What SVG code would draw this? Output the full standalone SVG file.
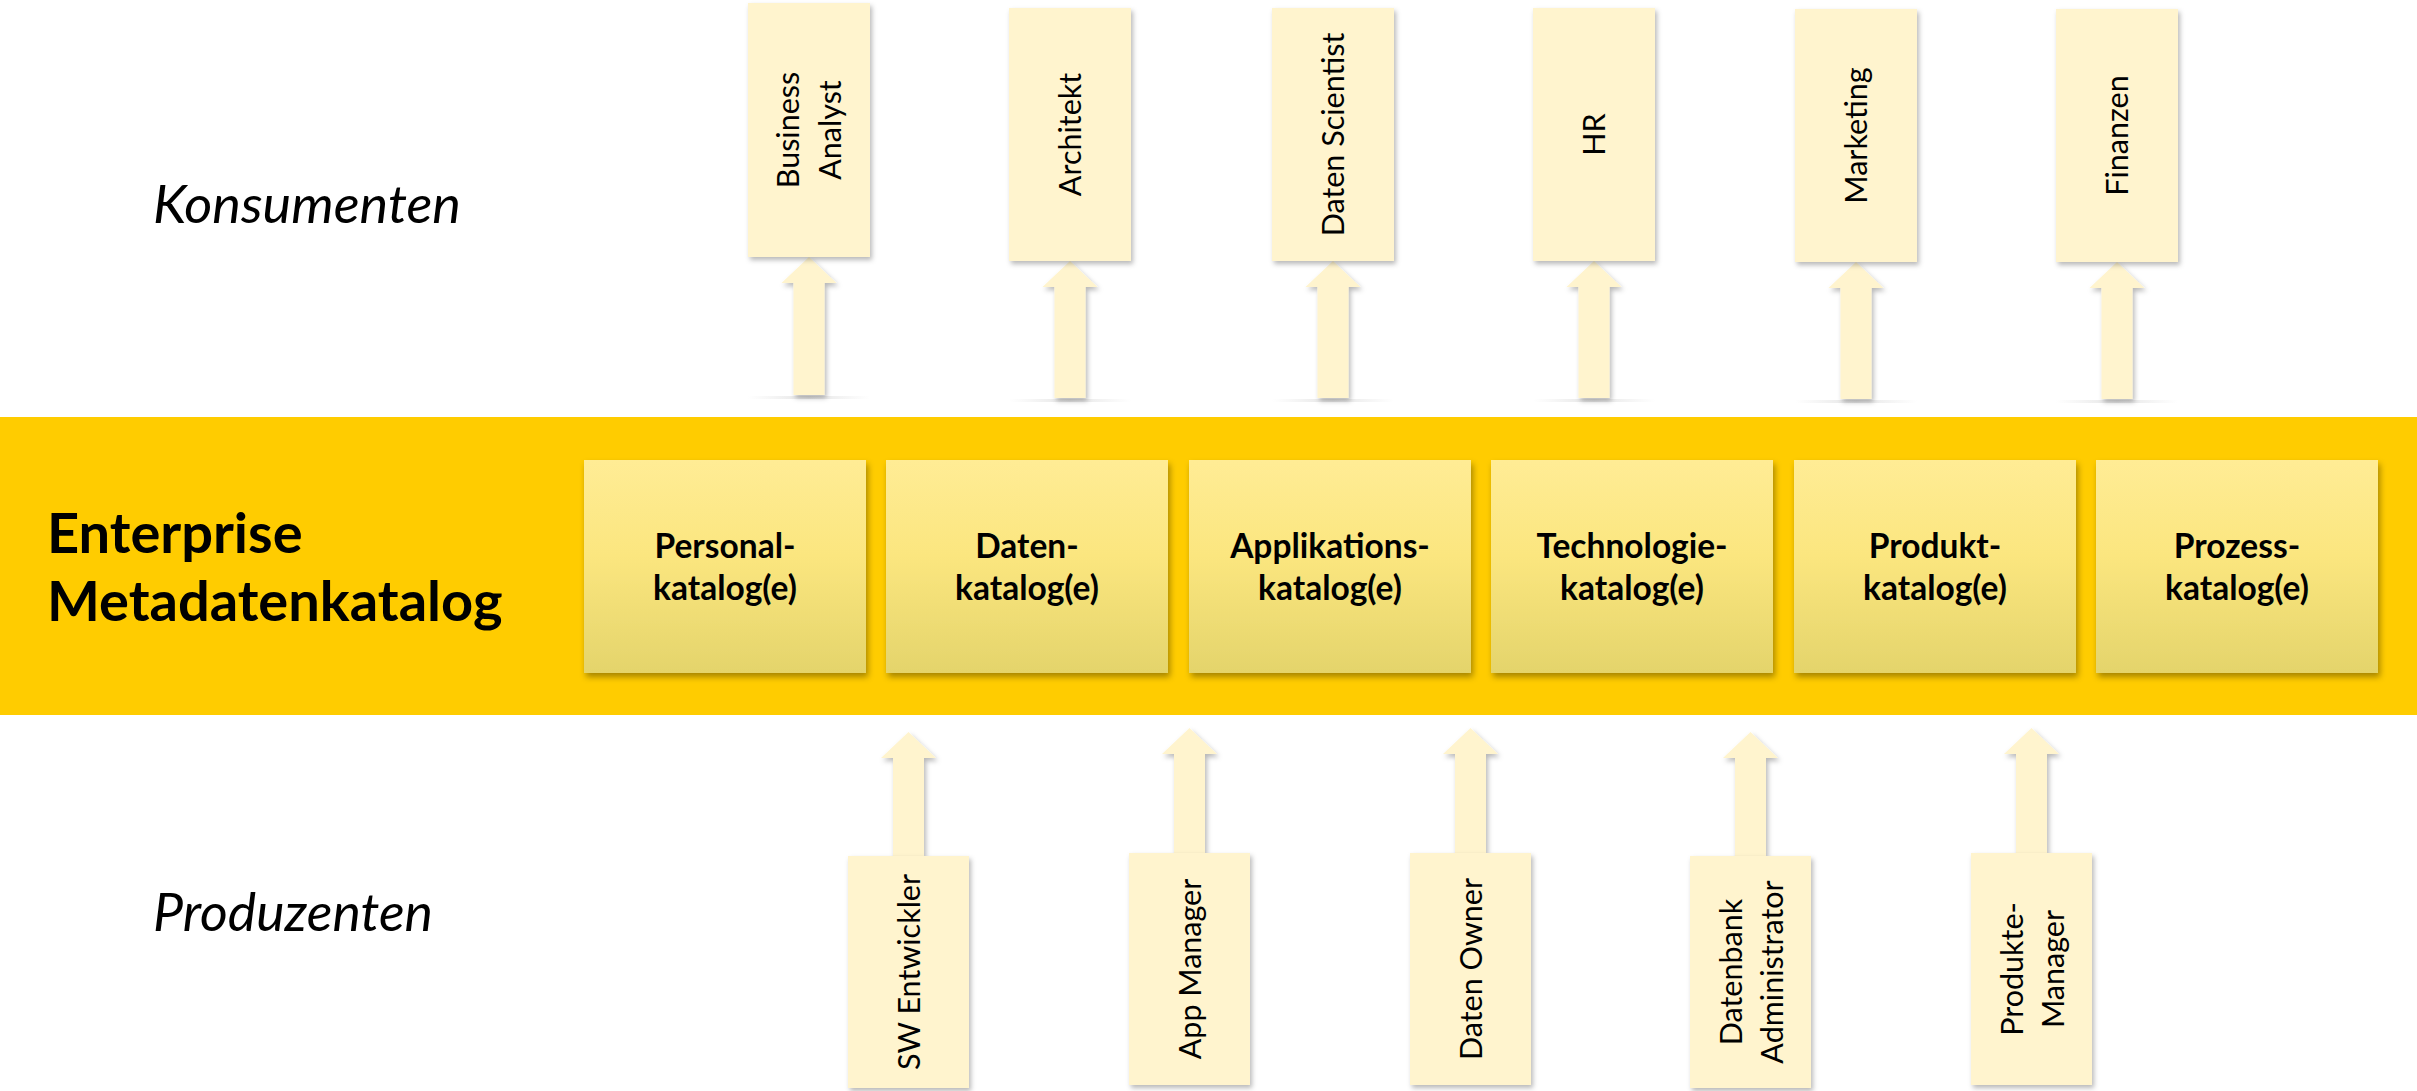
<svg xmlns="http://www.w3.org/2000/svg" width="2417" height="1091" viewBox="0 0 2417 1091">
  <defs>
    <linearGradient id="catGrad" x1="0" y1="0" x2="0" y2="1">
      <stop offset="0" stop-color="#FFEC95"/>
      <stop offset="0.45" stop-color="#FBE67F"/>
      <stop offset="1" stop-color="#E4D46B"/>
    </linearGradient>
    <linearGradient id="groundGrad" x1="0" y1="0" x2="1" y2="0">
      <stop offset="0" stop-color="#e8e8e8" stop-opacity="0"/>
      <stop offset="0.5" stop-color="#e4e4e4" stop-opacity="1"/>
      <stop offset="1" stop-color="#e8e8e8" stop-opacity="0"/>
    </linearGradient>
    <filter id="catShadow" x="-10%" y="-10%" width="125%" height="130%">
      <feDropShadow dx="2" dy="4" stdDeviation="3" flood-color="#000" flood-opacity="0.35"/>
    </filter>
    <filter id="boxShadow" x="-15%" y="-10%" width="140%" height="125%">
      <feDropShadow dx="2" dy="3" stdDeviation="2.5" flood-color="#000" flood-opacity="0.28"/>
    </filter>
  </defs>
  <style>
    .band { fill: #FFCC00; }
    .cat { fill: url(#catGrad); filter: url(#catShadow); }
    .person { fill: #FFF4CE; filter: url(#boxShadow); }
    .arrow { fill: #FFF4CE; filter: url(#boxShadow); }
    .ground { fill: url(#groundGrad); }
    .bold { font-family: Lato, "Open Sans", sans-serif; font-weight: 700; fill: #000; }
    .catText { font-size: 33.5px; text-anchor: middle; }
    .title { font-size: 56px; }
    .lane { font-family: Lato, "Open Sans", sans-serif; font-style: italic; font-size: 52px; fill: #000; }
    .role { font-family: Lato, "Open Sans", sans-serif; font-size: 30.5px; text-anchor: middle; fill: #000; }
  </style>

  <rect width="2417" height="1091" fill="#FFFFFF"/>

  <!-- Layer band -->
  <g id="band">
    <rect class="band" x="0" y="417" width="2417" height="298"/>
    <text class="bold title" x="47" y="553">Enterprise</text>
    <text class="bold title" x="47" y="621">Metadatenkatalog</text>
  </g>

  <!-- Lane labels -->
  <g id="label-konsumenten">
    <text class="lane" x="153" y="223" textLength="308" lengthAdjust="spacingAndGlyphs">Konsumenten</text>
  </g>
  <g id="label-produzenten">
    <text class="lane" x="153" y="931" textLength="280" lengthAdjust="spacingAndGlyphs">Produzenten</text>
  </g>

  <!-- Connectors -->
  <g id="connectors">
    <!-- ground lines under top arrows -->
    <rect class="ground" x="748" y="396" width="122" height="3"/>
    <rect class="ground" x="1009" y="399" width="122" height="3"/>
    <rect class="ground" x="1272" y="399" width="122" height="3"/>
    <rect class="ground" x="1533" y="399" width="122" height="3"/>
    <rect class="ground" x="1795" y="400" width="122" height="3"/>
    <rect class="ground" x="2056" y="400" width="122" height="3"/>
    <!-- top arrows (catalog -> consumers) -->
    <polygon class="arrow" points="809,257 836.5,283 824.5,283 824.5,395 793.5,395 793.5,283 781.5,283"/>
    <polygon class="arrow" points="1070,261 1097.5,287 1085.5,287 1085.5,398 1054.5,398 1054.5,287 1042.5,287"/>
    <polygon class="arrow" points="1333,261 1360.5,287 1348.5,287 1348.5,398 1317.5,398 1317.5,287 1305.5,287"/>
    <polygon class="arrow" points="1594,261 1621.5,287 1609.5,287 1609.5,398 1578.5,398 1578.5,287 1566.5,287"/>
    <polygon class="arrow" points="1856,262 1883.5,288 1871.5,288 1871.5,399 1840.5,399 1840.5,288 1828.5,288"/>
    <polygon class="arrow" points="2117,262 2144.5,288 2132.5,288 2132.5,399 2101.5,399 2101.5,288 2089.5,288"/>
    <!-- bottom arrows (producers -> catalog) -->
    <polygon class="arrow" points="908.5,732 936,758 924,758 924,856 893,856 893,758 881,758"/>
    <polygon class="arrow" points="1189.5,728 1217,754 1205,754 1205,853 1174,853 1174,754 1162,754"/>
    <polygon class="arrow" points="1470.5,728 1498,754 1486,754 1486,853 1455,853 1455,754 1443,754"/>
    <polygon class="arrow" points="1750.5,732 1778,758 1766,758 1766,856 1735,856 1735,758 1723,758"/>
    <polygon class="arrow" points="2031.5,728 2059,754 2047,754 2047,853 2016,853 2016,754 2004,754"/>
  </g>

  <!-- Catalog nodes -->
  <g id="cat-personal">
    <rect class="cat" x="584" y="460" width="282" height="213"/>
    <text class="bold catText" x="725" y="558">Personal-</text>
    <text class="bold catText" x="725" y="600">katalog(e)</text>
  </g>
  <g id="cat-daten">
    <rect class="cat" x="886" y="460" width="282" height="213"/>
    <text class="bold catText" x="1027" y="558">Daten-</text>
    <text class="bold catText" x="1027" y="600">katalog(e)</text>
  </g>
  <g id="cat-applikation">
    <rect class="cat" x="1189" y="460" width="282" height="213"/>
    <text class="bold catText" x="1330" y="558">Applikations-</text>
    <text class="bold catText" x="1330" y="600">katalog(e)</text>
  </g>
  <g id="cat-technologie">
    <rect class="cat" x="1491" y="460" width="282" height="213"/>
    <text class="bold catText" x="1632" y="558">Technologie-</text>
    <text class="bold catText" x="1632" y="600">katalog(e)</text>
  </g>
  <g id="cat-produkt">
    <rect class="cat" x="1794" y="460" width="282" height="213"/>
    <text class="bold catText" x="1935" y="558">Produkt-</text>
    <text class="bold catText" x="1935" y="600">katalog(e)</text>
  </g>
  <g id="cat-prozess">
    <rect class="cat" x="2096" y="460" width="282" height="213"/>
    <text class="bold catText" x="2237" y="558">Prozess-</text>
    <text class="bold catText" x="2237" y="600">katalog(e)</text>
  </g>

  <!-- Consumer nodes -->
  <g id="con-business-analyst">
    <rect class="person" x="748" y="3" width="122" height="254"/>
    <g transform="translate(809,130) rotate(-90)">
      <text class="role" x="0" y="-10">Business</text>
      <text class="role" x="0" y="32">Analyst</text>
    </g>
  </g>
  <g id="con-architekt">
    <rect class="person" x="1009" y="8" width="122" height="253"/>
    <text class="role" transform="translate(1070,134.5) rotate(-90)" x="0" y="11">Architekt</text>
  </g>
  <g id="con-daten-scientist">
    <rect class="person" x="1272" y="8" width="122" height="253"/>
    <text class="role" transform="translate(1333,134.5) rotate(-90)" x="0" y="11">Daten Scientist</text>
  </g>
  <g id="con-hr">
    <rect class="person" x="1533" y="8" width="122" height="253"/>
    <text class="role" transform="translate(1594,134.5) rotate(-90)" x="0" y="11">HR</text>
  </g>
  <g id="con-marketing">
    <rect class="person" x="1795" y="9" width="122" height="253"/>
    <text class="role" transform="translate(1856,135.5) rotate(-90)" x="0" y="11">Marketing</text>
  </g>
  <g id="con-finanzen">
    <rect class="person" x="2056" y="9" width="122" height="253"/>
    <text class="role" transform="translate(2117,135.5) rotate(-90)" x="0" y="11">Finanzen</text>
  </g>

  <!-- Producer nodes -->
  <g id="pro-sw-entwickler">
    <rect class="person" x="848" y="856" width="121" height="232"/>
    <text class="role" transform="translate(908.5,972) rotate(-90)" x="0" y="11">SW Entwickler</text>
  </g>
  <g id="pro-app-manager">
    <rect class="person" x="1129" y="853" width="121" height="232"/>
    <text class="role" transform="translate(1189.5,969) rotate(-90)" x="0" y="11">App Manager</text>
  </g>
  <g id="pro-daten-owner">
    <rect class="person" x="1410" y="853" width="121" height="232"/>
    <text class="role" transform="translate(1470.5,969) rotate(-90)" x="0" y="11">Daten Owner</text>
  </g>
  <g id="pro-datenbank-administrator">
    <rect class="person" x="1690" y="856" width="121" height="232"/>
    <g transform="translate(1750.5,972) rotate(-90)">
      <text class="role" x="0" y="-9">Datenbank</text>
      <text class="role" x="0" y="32">Administrator</text>
    </g>
  </g>
  <g id="pro-produkte-manager">
    <rect class="person" x="1971" y="853" width="121" height="232"/>
    <g transform="translate(2031.5,969) rotate(-90)">
      <text class="role" x="0" y="-9">Produkte-</text>
      <text class="role" x="0" y="32">Manager</text>
    </g>
  </g>
</svg>
